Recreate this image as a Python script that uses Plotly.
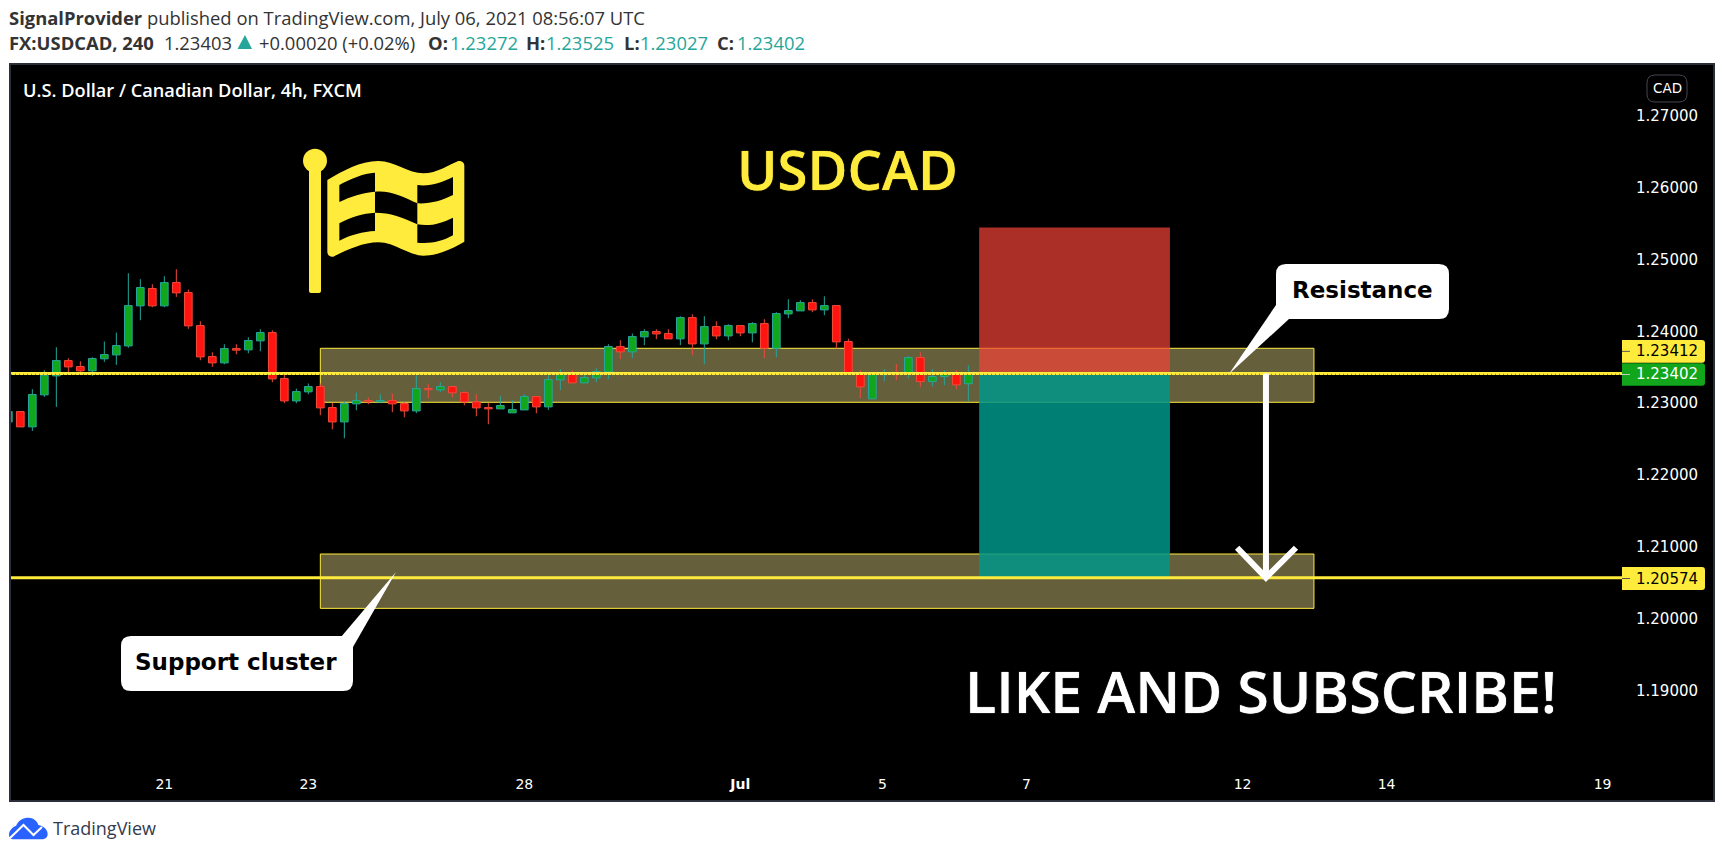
import plotly.graph_objects as go

# ---------- data ----------
bar_index = list(range(81))
opens = [1.22740,1.22884,1.22671,1.23116,1.23380,1.23593,1.23510,1.23450,1.23617,1.23672,1.23797,1.24354,1.24595,1.24354,1.24678,1.24539,1.24080,1.23649,1.23561,1.23760,1.23742,1.23867,1.23983,1.23343,1.23032,1.23158,1.23232,1.22940,1.22740,1.22991,1.23037,1.23020,1.23037,1.22995,1.22893,1.23204,1.23185,1.23232,1.23148,1.23019,1.22940,1.22921,1.22866,1.22907,1.23093,1.22949,1.23325,1.23413,1.23283,1.23352,1.23436,1.23788,1.23714,1.23923,1.23997,1.23969,1.23895,1.24191,1.23825,1.24066,1.23936,1.24080,1.23978,1.24108,1.23765,1.24242,1.24284,1.24400,1.24298,1.24358,1.23858,1.23427,1.23060,1.23397,1.23413,1.23403,1.23635,1.23301,1.23371,1.23413,1.23272]
highs = [1.22884,1.22884,1.23195,1.23459,1.23779,1.23626,1.23584,1.23640,1.23858,1.23983,1.24808,1.24725,1.24655,1.24766,1.24864,1.24581,1.24140,1.23709,1.23821,1.23821,1.23918,1.24029,1.24015,1.23422,1.23204,1.23274,1.23274,1.23005,1.23023,1.23148,1.23079,1.23125,1.23134,1.23014,1.23389,1.23264,1.23292,1.23241,1.23162,1.23125,1.23005,1.23097,1.23042,1.23125,1.23093,1.23403,1.23473,1.23459,1.23431,1.23487,1.23821,1.23876,1.23969,1.24029,1.24029,1.24029,1.24210,1.24238,1.24210,1.24140,1.24099,1.24080,1.24127,1.24168,1.24266,1.24446,1.24433,1.24446,1.24488,1.24358,1.23899,1.23459,1.23413,1.23473,1.23542,1.23654,1.23709,1.23473,1.23459,1.23459,1.23525]
lows = [1.22740,1.22671,1.22615,1.23088,1.22949,1.23413,1.23403,1.23380,1.23575,1.23533,1.23770,1.24154,1.24335,1.24335,1.24479,1.24034,1.23598,1.23505,1.23542,1.23681,1.23695,1.23723,1.23292,1.23000,1.23000,1.23125,1.22833,1.22638,1.22513,1.22903,1.22986,1.23000,1.22875,1.22805,1.22861,1.23070,1.23153,1.23083,1.22972,1.22819,1.22708,1.22921,1.22866,1.22907,1.22861,1.22907,1.23181,1.23283,1.23283,1.23292,1.23334,1.23612,1.23626,1.23807,1.23890,1.23895,1.23807,1.23668,1.23542,1.23890,1.23876,1.23932,1.23848,1.23626,1.23640,1.24182,1.24284,1.24266,1.24224,1.23760,1.23403,1.23070,1.23060,1.23306,1.23320,1.23348,1.23223,1.23236,1.23250,1.23195,1.23027]
closes = [1.22884,1.22671,1.23121,1.23389,1.23593,1.23505,1.23450,1.23621,1.23677,1.23802,1.24358,1.24609,1.24354,1.24678,1.24535,1.24076,1.23644,1.23561,1.23760,1.23738,1.23872,1.23983,1.23338,1.23032,1.23162,1.23232,1.22935,1.22740,1.22995,1.23037,1.23020,1.23037,1.22991,1.22893,1.23204,1.23188,1.23232,1.23144,1.23019,1.22935,1.22921,1.22968,1.22912,1.23093,1.22949,1.23329,1.23413,1.23283,1.23357,1.23440,1.23788,1.23714,1.23927,1.23997,1.23964,1.23895,1.24191,1.23825,1.24066,1.23936,1.24080,1.23978,1.24108,1.23765,1.24247,1.24289,1.24400,1.24298,1.24358,1.23853,1.23422,1.23227,1.23399,1.23413,1.23397,1.23635,1.23301,1.23371,1.23413,1.23255,1.23402]

date_tick_positions = [13, 25, 43, 61, 72.85, 84.85, 102.85, 114.85, 132.85]
date_tick_labels = ["21", "23", "28", "<b>Jul</b>", "5", "7", "12", "14", "19"]
price_ticks = [1.19, 1.20, 1.21, 1.22, 1.23, 1.24, 1.25, 1.26, 1.27]
price_tick_labels = ["1.19000", "1.20000", "1.21000", "1.22000", "1.23000", "1.24000", "1.25000", "1.26000", "1.27000"]

resistance_line = 1.23412
last_price = 1.23402
support_line = 1.20574
resistance_zone = (1.23013, 1.23764)
support_zone = (1.20147, 1.20903)
zone_bars = (26.0, 108.8)
trade_bars = (80.9, 96.8)
stop_level = 1.25444
arrow_bar = 104.8
arrow_head = (102.4, 107.3, 1.2099)

# ---------- figure geometry ----------
W, H = 1723, 856
L, R, T, B = 11, 1622, 65, 760
def px(x): return (x - L) / (R - L)
def py(y): return 1 - (y - T) / (B - T)
def P(x, y): return f"{px(x):.5f},{py(y):.5f}"

YEL = "#ffeb3b"
FLAG = "#ffeb3b"
TEAL = "#26a69a"
UP_FILL = "#11a61c"
DOWN_FILL = "#ff1410"
DOWN_LINE = "#ef4a3a"

shapes = []
ann = []

def pshape(path, fill=None, line=None, width=0, layer="above"):
    shapes.append(dict(type="path", xref="paper", yref="paper", path=path, fillcolor=fill or "rgba(0,0,0,0)",
                       line=dict(color=line or "rgba(0,0,0,0)", width=width), layer=layer))

def text(t, x, y, size, color="#000", anchor="left", family="Open Sans", weight=None, shadow=None):
    f = dict(size=size, color=color, family=family)
    if weight: f["weight"] = weight
    if shadow: f["shadow"] = shadow
    ann.append(dict(text=t, x=px(x), y=py(y), xref="paper", yref="paper", xanchor=anchor, yanchor="middle",
                    showarrow=False, font=f, borderpad=0))

def zoompath(segments, ox, oy, s=3):
    # segments given in crop coordinates of a 3x view
    out = []
    for cmd, pts in segments:
        out.append(cmd + " ".join(P(ox + a / s, oy + b / s) for a, b in pts))
    return " ".join(out) + " Z"

# pane
shapes.append(dict(type="rect", xref="paper", yref="paper", x0=px(10), x1=px(1714), y0=py(801), y1=py(64),
                   fillcolor="#000000", line=dict(color="#2a2e39", width=2), layer="below"))

# zones + trade box (beneath candles)
for z in (resistance_zone, support_zone):
    shapes.append(dict(type="rect", xref="x", yref="y", x0=zone_bars[0], x1=zone_bars[1], y0=z[0], y1=z[1],
                       fillcolor="rgba(255,238,150,0.40)", line=dict(color=YEL, width=1), layer="below"))
shapes.append(dict(type="rect", xref="x", yref="y", x0=trade_bars[0], x1=trade_bars[1], y0=resistance_line, y1=stop_level,
                   fillcolor="rgba(244,67,54,0.70)", line=dict(width=0), layer="below"))
shapes.append(dict(type="rect", xref="x", yref="y", x0=trade_bars[0], x1=trade_bars[1], y0=support_line, y1=resistance_line,
                   fillcolor="rgba(0,150,136,0.85)", line=dict(width=0), layer="below"))

# horizontal levels
shapes.append(dict(type="line", xref="paper", yref="y", x0=0, x1=1, y0=support_line, y1=support_line,
                   line=dict(color=YEL, width=3), layer="above"))
shapes.append(dict(type="line", xref="paper", yref="y", x0=0, x1=1, y0=resistance_line, y1=resistance_line,
                   line=dict(color=YEL, width=3), layer="above"))
shapes.append(dict(type="line", xref="paper", yref="y", x0=0, x1=1, y0=last_price, y1=last_price,
                   line=dict(color="#11a61c", width=1, dash="1px,3px"), layer="above"))

# white arrow
shapes.append(dict(type="line", xref="x", yref="y", x0=arrow_bar, x1=arrow_bar, y0=resistance_line, y1=support_line,
                   line=dict(color="#ffffff", width=6), layer="above"))
shapes.append(dict(type="path", xref="x", yref="y",
                   path=f"M {arrow_head[0]},{arrow_head[2]} L {arrow_bar},{support_line} L {arrow_head[1]},{arrow_head[2]}",
                   fillcolor="rgba(0,0,0,0)", line=dict(color="#ffffff", width=6), layer="above"))

# callouts
def rounded(x0, y0, x1, y1, r=10):
    return (f"M {P(x0 + r, y0)} L {P(x1 - r, y0)} Q {P(x1, y0)} {P(x1, y0 + r)} L {P(x1, y1 - r)} "
            f"Q {P(x1, y1)} {P(x1 - r, y1)} L {P(x0 + r, y1)} Q {P(x0, y1)} {P(x0, y1 - r)} "
            f"L {P(x0, y0 + r)} Q {P(x0, y0)} {P(x0 + r, y0)} Z")

pshape(rounded(1276, 264, 1449, 319), fill="#ffffff")
pshape(f"M {P(1276,305)} L {P(1229,374)} L {P(1289,319)} L {P(1289,305)} Z", fill="#ffffff")
pshape(rounded(121, 636, 353, 691), fill="#ffffff")
pshape(f"M {P(341,637)} L {P(396,572)} L {P(353,647)} L {P(341,647)} Z", fill="#ffffff")
text("<b>Resistance</b>", 1362, 290, 23, "#000", "center", "DejaVu Sans")
text("<b>Support cluster</b>", 236, 662, 23, "#000", "center", "DejaVu Sans")

# flag
pshape(f"M {P(309,170)} L {P(321,170)} L {P(321,291)} Q {P(321,293)} {P(319,293)} L {P(311,293)} Q {P(309,293)} {P(309,291)} Z", fill=FLAG)
shapes.append(dict(type="circle", xref="paper", yref="paper", x0=px(303), x1=px(327), y0=py(172.7), y1=py(148.7),
                   fillcolor=FLAG, line=dict(width=0), layer="above"))
flag_outer = [("M", [(142,150)]),
              ("C", [(190,122),(240,93),(295,93)]), ("C", [(345,93),(385,130),(430,130)]),
              ("C", [(470,130),(510,103),(535,93)]), ("C", [(548,92),(553,100),(553,108)]),
              ("L", [(553,335)]), ("C", [(510,360),(470,377),(430,377)]),
              ("C", [(385,377),(345,337),(295,337)]), ("C", [(250,337),(200,360),(160,380)]),
              ("C", [(150,382),(142,375),(142,365)])]
cells = [
    [("M", [(178,165)]), ("C", [(210,147),(250,130),(285,128)]), ("L", [(285,185)]), ("C", [(250,187),(210,200),(178,216)])],
    [("M", [(285,185)]), ("C", [(330,180),(370,200),(412,220)]), ("L", [(412,283)]), ("C", [(370,262),(330,248),(285,248)])],
    [("M", [(412,165)]), ("C", [(450,170),(485,158),(519,141)]), ("L", [(519,195)]), ("C", [(485,212),(450,222),(412,220)])],
    [("M", [(178,280)]), ("C", [(210,262),(250,250),(285,248)]), ("L", [(285,303)]), ("C", [(250,305),(210,315),(178,332)])],
    [("M", [(412,283)]), ("C", [(450,290),(485,280),(519,263)]), ("L", [(519,316)]), ("C", [(485,335),(450,342),(412,338)])],
]
pshape(zoompath(flag_outer, 280, 130), fill=FLAG)
for c in cells:
    pshape(zoompath(c, 280, 130), fill="#000000")

# big texts
text("USDCAD", 847, 169, 54.5, FLAG, "center", "Open Sans", 600, f"0 0 1px {FLAG}")
text("LIKE AND SUBSCRIBE!", 1261, 691, 57.4, "#ffffff", "center", "Open Sans", 600, "0 0 1px #ffffff")
text("U.S. Dollar / Canadian Dollar, 4h, FXCM", 22, 90, 18.2, "#ffffff", "left", "Open Sans", 600)

# header
HS = 18.4
text("<b>SignalProvider</b> published on TradingView.com, July 06, 2021 08:56:07 UTC", 8, 18, HS, "#333333")
text("<b>FX:USDCAD, 240</b>", 8, 43, HS, "#333333")
text("1.23403", 163, 43, HS, "#333333")
pshape(f"M {P(237.5,49)} L {P(245,35)} L {P(252,49)} Z", fill=TEAL)
text("+0.00020 (+0.02%)", 258, 43, HS, "#333333")
for lab, xl, val, xv in [("O:", 427, "1.23272", 449), ("H:", 525, "1.23525", 545), ("L:", 622.6, "1.23027", 639), ("C:", 716, "1.23402", 736)]:
    text(f"<b>{lab}</b>", xl, 43, HS, "#333333")
    text(val, xv, 43, HS, TEAL)

# price labels
def tag(y0, y1, fill, label, fc, tickc):
    r = 3
    x0, x1 = 1622, 1705
    pshape(f"M {P(x0,y0)} L {P(x1-r,y0)} Q {P(x1,y0)} {P(x1,y0+r)} L {P(x1,y1-r)} Q {P(x1,y1)} {P(x1-r,y1)} L {P(x0,y1)} Z", fill=fill)
    pshape(f"M {P(x0,(y0+y1)/2)} L {P(x0+8,(y0+y1)/2)}", line=tickc, width=1)
    text(label, 1667, (y0 + y1) / 2, 15, fc, "center", "DejaVu Sans")

tag(340, 362.7, YEL, "1.23412", "#000000", "#555555")
tag(363.3, 385.7, "#11a61c", "1.23402", "#ffffff", "#cccccc")
tag(567, 590, YEL, "1.20574", "#000000", "#555555")

# currency pill
pshape(f"M {P(1655,75)} L {P(1679,75)} Q {P(1687,75)} {P(1687,83)} L {P(1687,94)} Q {P(1687,102)} {P(1679,102)} L {P(1655,102)} Q {P(1647,102)} {P(1647,94)} L {P(1647,83)} Q {P(1647,75)} {P(1655,75)} Z",
       fill="#000000", line="#434651", width=1)
text("CAD", 1667, 88, 13.5, "#ffffff", "center", "DejaVu Sans")

# TradingView footer
cloud = [("M", [(27,345)]), ("C", [(27,330),(40,320),(48,318)]), ("C", [(55,300),(70,293),(85,293)]),
         ("C", [(100,293),(112,303),(115,315)]), ("C", [(132,318),(143,330),(143,342)]),
         ("C", [(143,352),(135,358),(125,358)]), ("L", [(40,358)]), ("C", [(32,358),(27,352),(27,345)])]
pshape(zoompath(cloud, 0, 720), fill="#2962ff")
pshape(f"M {P(10,838)} L {P(23.5,825)} L {P(33.5,835)} L {P(42,827)}", line="#ffffff", width=2)
text("TradingView", 52, 828, 18, "#333c4e")

# ---------- candles: bodies as floating bars, wicks as broken lines ----------
is_up = [c >= o for o, c in zip(opens, closes)]
body_low = [min(o, c) for o, c in zip(opens, closes)]
body_high = [max(o, c) for o, c in zip(opens, closes)]

def wick_trace(up, color):
    xs, ys = [], []
    for i, u in zip(bar_index, is_up):
        if u != up:
            continue
        if highs[i] > body_high[i]:
            xs += [i, i, None]; ys += [highs[i], body_high[i], None]
        if lows[i] < body_low[i]:
            xs += [i, i, None]; ys += [body_low[i], lows[i], None]
    return go.Scatter(x=xs, y=ys, mode="lines", line=dict(color=color, width=1), hoverinfo="skip", showlegend=False)

fig = go.Figure()
fig.add_trace(go.Bar(
    x=bar_index, base=body_low, y=[h - l for h, l in zip(body_high, body_low)], width=0.64,
    marker=dict(color=[UP_FILL if u else DOWN_FILL for u in is_up],
                line=dict(color=[TEAL if u else DOWN_LINE for u in is_up], width=1)),
    hoverinfo="skip", showlegend=False,
))
fig.add_trace(wick_trace(True, TEAL))
fig.add_trace(wick_trace(False, DOWN_LINE))

fig.update_layout(
    width=W, height=H,
    margin=dict(l=L, r=W - R, t=T, b=H - B, pad=0),
    paper_bgcolor="#ffffff", plot_bgcolor="#000000",
    showlegend=False,
    shapes=shapes, annotations=ann,
    font=dict(family="DejaVu Sans", color="#ffffff", size=14),
    xaxis=dict(range=[0.2225, 134.47], showgrid=False, zeroline=False,
               showline=False, tickmode="array", tickvals=date_tick_positions, ticktext=date_tick_labels,
               ticks="outside", ticklen=11, tickcolor="rgba(0,0,0,0)", tickfont=dict(size=14, color="#ffffff", family="DejaVu Sans")),
    yaxis=dict(range=[1.18038, 1.27704], side="right", showgrid=False, zeroline=False, showline=False,
               tickmode="array", tickvals=price_ticks, ticktext=price_tick_labels,
               ticks="outside", ticklen=10, tickcolor="rgba(0,0,0,0)", tickfont=dict(size=15, color="#ffffff", family="DejaVu Sans")),
)

fig.write_html("out.html", config={"displayModeBar": False}, post_script="document.body.style.margin='0';")
